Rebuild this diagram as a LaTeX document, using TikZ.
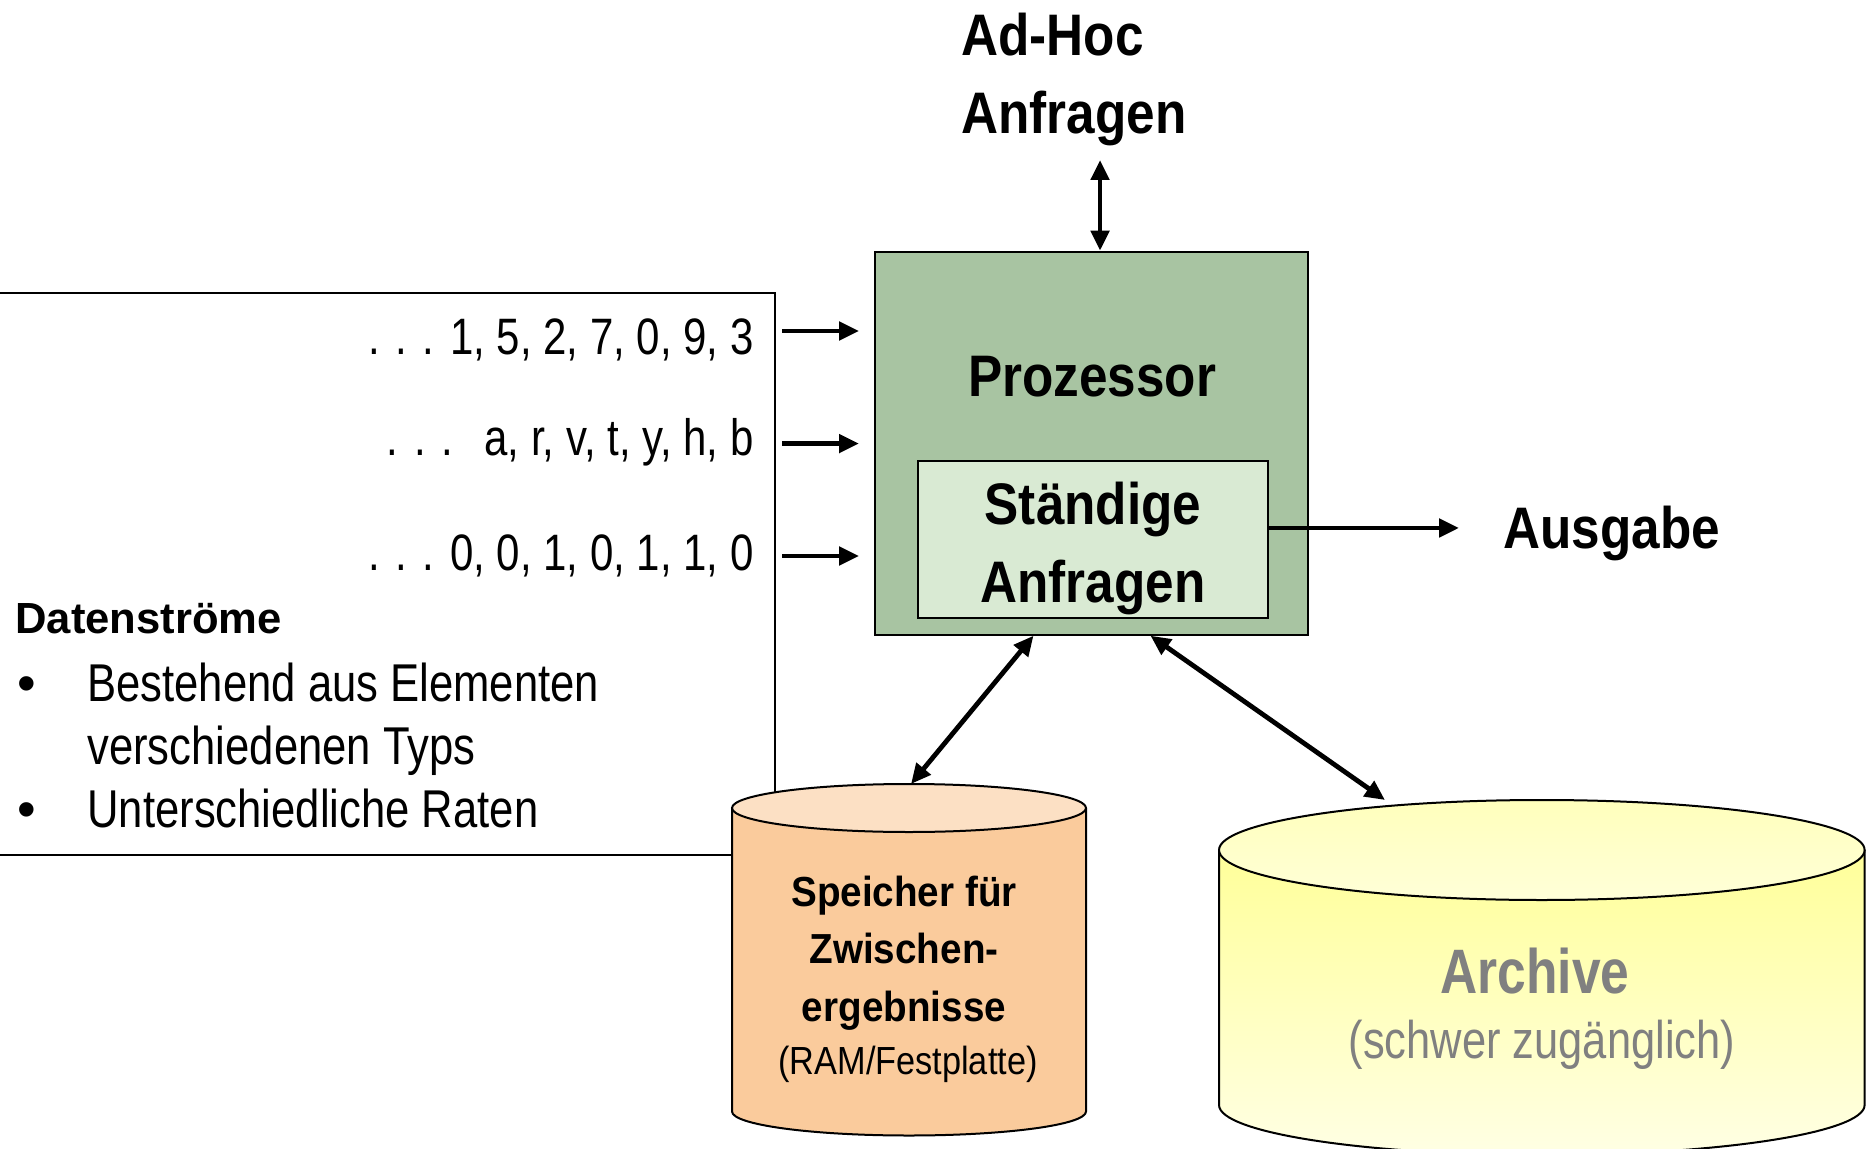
\documentclass[tikz,border=0pt]{standalone}
\usepackage{fontspec}
\setmainfont{Liberation Sans}
\newfontfamily\headfont[FakeStretch=0.875]{Liberation Sans}
\newfontfamily\storefont[FakeStretch=0.92]{Liberation Sans}
\newfontfamily\narrowfont[FakeStretch=0.82]{Liberation Sans}
\usetikzlibrary{arrows.meta}

\definecolor{procgreen}{HTML}{A8C4A2}
\definecolor{querygreen}{HTML}{D9EAD3}
\definecolor{membody}{HTML}{FACB9C}
\definecolor{memface}{HTML}{FCE0C4}
\definecolor{archbody}{HTML}{FFFF99}
\definecolor{archpale}{HTML}{FFFFE4}
\definecolor{archface}{HTML}{FFFFBC}
\definecolor{archtext}{HTML}{808080}

\tikzset{
  arrowline/.style={-{Triangle[length=10pt,width=9pt]}, line width=2.4pt},
  twoway/.style={{Triangle[length=10pt,width=9pt]}-{Triangle[length=10pt,width=9pt]}, line width=2.4pt},
  bigbold/.style={font=\headfont\bfseries\fontsize{29.3}{39}\selectfont, inner sep=0pt},
  streamtxt/.style={font=\narrowfont\fontsize{25.6}{31.5}\selectfont, inner sep=0pt},
}

\begin{document}
\begin{tikzpicture}[x=0.5pt, y=-0.5pt]
  \useasboundingbox (0,0) rectangle (1866,1149);

  % frame round the data streams, open to the left
  \draw[line width=0.8pt] (0,293) -| (775,855) -- (0,855);

  % intermediate storage
  \filldraw[fill=membody, line width=1pt] (732,808) -- (732,1111.5)
    arc[start angle=180, end angle=0, x radius=177, y radius=24] -- (1086,808);
  \filldraw[fill=memface, line width=1pt] (909,808) ellipse [x radius=177, y radius=24];
  \coordinate (memin) at (911,784);

  % archive
  \shade[top color=archbody, bottom color=archpale] (1219,850) -- (1219,1105)
    arc[start angle=180, end angle=0, x radius=322.8, y radius=50] -- (1864.6,850) -- cycle;
  \draw[line width=1pt] (1219,850) -- (1219,1105)
    arc[start angle=180, end angle=0, x radius=322.8, y radius=50] -- (1864.6,850);
  \shadedraw[top color=archface, bottom color=archpale!70!archface, line width=1pt]
    (1541.8,850) ellipse [x radius=322.8, y radius=50];
  \coordinate (archin) at (1385,800);

  % processor with the continuous queries
  \node[draw, fill=procgreen, line width=1pt, minimum width=216.5pt, minimum height=191.5pt,
        inner sep=0pt] (proc) at (1091.5,443.2) {};
  \node[bigbold, anchor=base] (proctxt) at (1092,397) {Prozessor};
  \node[draw, fill=querygreen, line width=1pt, minimum width=175pt, minimum height=78.5pt,
        inner sep=0pt] (inner) at (1093,539.4) {};
  \node[bigbold, align=center, anchor=base] (innertxt) at (1093,602) {Ständige\\Anfragen};

  % ad-hoc queries
  \node[bigbold, align=left, anchor=base west] (adhoc) at (961,134) {Ad-Hoc\\Anfragen};
  \coordinate (adhocend) at (1100,160);
  \draw[twoway] (adhocend) -- (adhocend |- proc.north);

  % output
  \node[bigbold, anchor=base west] (out) at (1503,548) {Ausgabe};
  \draw[arrowline, shorten >=22pt] ([yshift=2.5pt]inner.east |- out.west) -- ([yshift=2.5pt]out.west);

  % the streams
  \node[streamtxt, anchor=base east] (s1) at (754,355) {. . . 1, 5, 2, 7, 0, 9, 3};
  \node[streamtxt, anchor=base east] (s2) at (754,456) {. . .\hspace{8pt} a, r, v, t, y, h, b};
  \node[streamtxt, anchor=base east] (s3) at (754,570) {. . . 0, 0, 1, 0, 1, 1, 0};
  \draw[arrowline, shorten <=14pt, shorten >=7.5pt] ([yshift=12pt]s1.base east) -- ([yshift=12pt]s1.base east -| proc.west);
  \draw[arrowline, shorten <=14pt, shorten >=7.5pt] ([yshift=6.2pt]s2.base east) -- ([yshift=6.2pt]s2.base east -| proc.west);
  \draw[arrowline, shorten <=14pt, shorten >=7.5pt] ([yshift=7pt]s3.base east) -- ([yshift=7pt]s3.base east -| proc.west);

  \node[font=\bfseries\fontsize{21.8}{24}\selectfont, inner sep=0pt, anchor=base west] (streamhead) at (15,633) {Datenströme};
  \node[streamtxt, font=\narrowfont\fontsize{26.6}{31.5}\selectfont, align=left, anchor=base west] (streamlist) at (17,827)
    {\makebox[35pt][l]{\rmfamily\textbullet}Bestehend aus Elementen\\
     \hspace*{35pt}verschiedenen Typs\\
     \makebox[35pt][l]{\rmfamily\textbullet}Unterschiedliche Raten};

  % labels of the stores
  \node[font=\storefont\bfseries\fontsize{21}{28.75}\selectfont, align=center, inner sep=0pt, anchor=base] (memtxt) at (904,1021)
    {Speicher für\\Zwischen-\\ergebnisse};
  \node[font=\headfont\fontsize{19.6}{22}\selectfont, inner sep=0pt, anchor=base] (memsub) at (908,1074.3) {(RAM/Festplatte)};
  \node[font=\narrowfont\bfseries\fontsize{31.4}{36}\selectfont, text=archtext, inner sep=0pt, anchor=base] (arch) at (1535,993) {Archive};
  \node[font=\narrowfont\fontsize{26.5}{30}\selectfont, text=archtext, inner sep=0pt, anchor=base] (archsub) at (1542,1058) {(schwer zugänglich)};

  % access to the stores
  \draw[twoway] ([xshift=-29pt]proc.south) -- (memin);
  \draw[twoway] ([xshift=29.5pt]proc.south) -- (archin);
\end{tikzpicture}
\end{document}
